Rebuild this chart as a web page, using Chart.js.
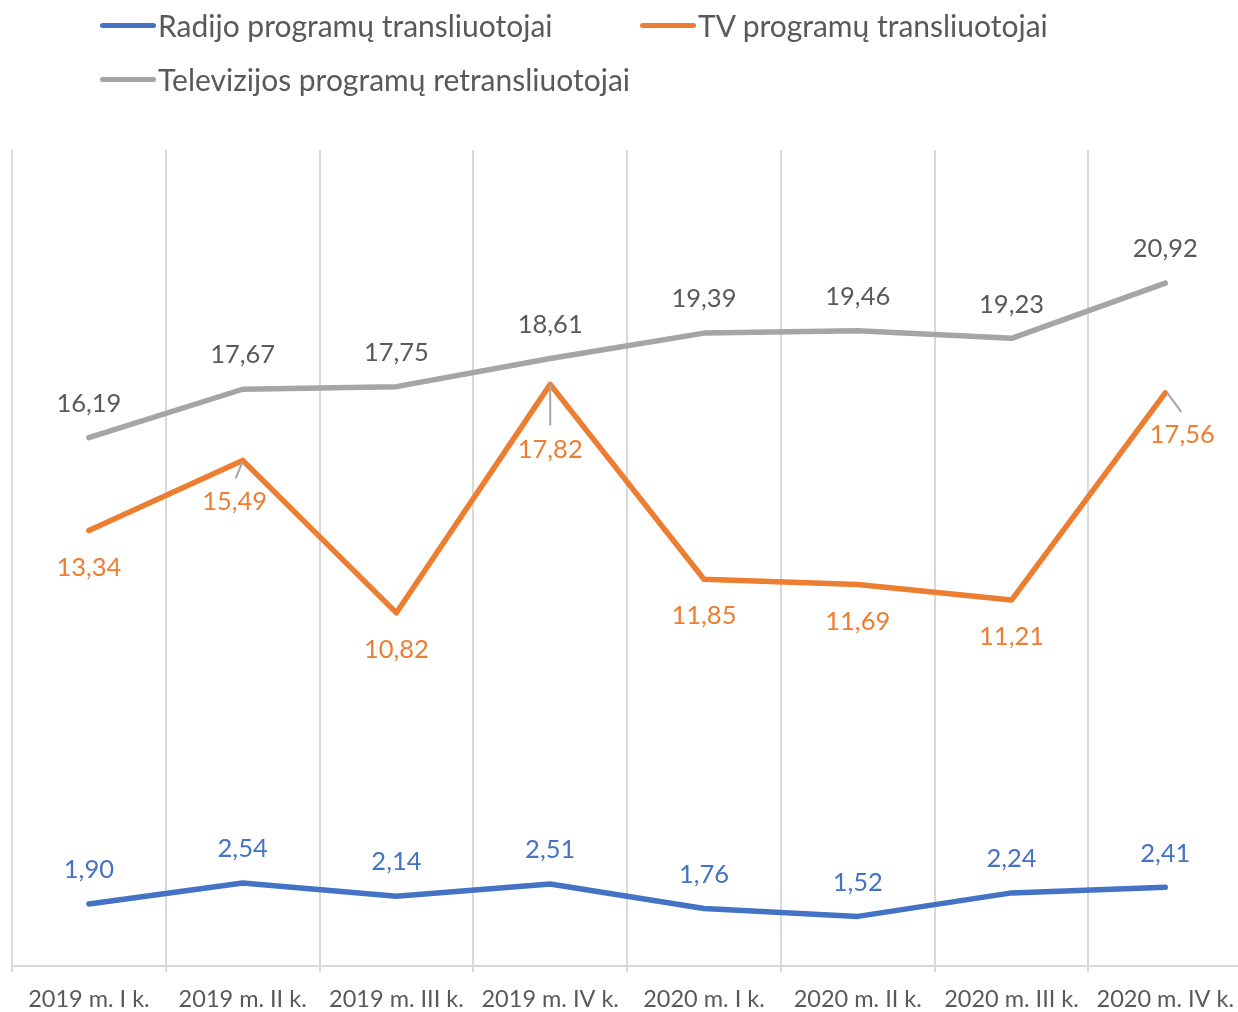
<!DOCTYPE html>
<html>
<head>
<meta charset="utf-8">
<script src="https://cdn.jsdelivr.net/npm/chart.js@4"></script>
<style>
  body { margin: 0; background: #fff; overflow: hidden; width: 1238px; height: 1012px; position: relative; }
  #legend { position: absolute; left: 0; top: 0; width: 1238px; font-family: Lato, sans-serif; font-size: 30px; color: #595959; }
  .item { position: absolute; display: flex; align-items: center; height: 34px; }
  .swatch { width: 56px; height: 5px; border-radius: 3px; margin-right: 2px; }
  #chart { position: absolute; left: 0; top: 0; }
</style>
</head>
<body>
<canvas id="chart" width="1247" height="1012"></canvas>
<div id="legend"></div>
<script>
const categories = ["2019 m. I k.", "2019 m. II k.", "2019 m. III k.", "2019 m. IV k.", "2020 m. I k.", "2020 m. II k.", "2020 m. III k.", "2020 m. IV k."];
const radijo = [1.90, 2.54, 2.14, 2.51, 1.76, 1.52, 2.24, 2.41];
const tv = [13.34, 15.49, 10.82, 17.82, 11.85, 11.69, 11.21, 17.56];
const retrans = [16.19, 17.67, 17.75, 18.61, 19.39, 19.46, 19.23, 20.92];
const seriesNames = ["Radijo programų transliuotojai", "TV programų transliuotojai", "Televizijos programų retransliuotojai"];

const colors = ["#4472C4", "#ED7D31", "#A5A5A5"];
const labelColors = ["#4472C4", "#ED7D31", "#595959"];

// legend, left aligned like the original
const legend = document.getElementById("legend");
const legendPos = [[100, 27], [640, 27], [100, 81]];
seriesNames.forEach((name, i) => {
  const el = document.createElement("div");
  el.className = "item";
  el.style.left = legendPos[i][0] + "px";
  el.style.top = (legendPos[i][1] - 19) + "px";
  el.innerHTML = `<span class="swatch" style="background:${colors[i]}"></span><span>${name}</span>`;
  legend.appendChild(el);
});

const fmt = (v) => v.toFixed(2).replace(".", ",");

// data labels, offsets roughly like Excel placed them
const labelPlugin = {
  id: "labels",
  afterDatasetsDraw(chart) {
    const ctx = chart.ctx;
    ctx.save();
    ctx.font = "25.5px Lato, sans-serif";
    ctx.textAlign = "center";
    ctx.textBaseline = "middle";
    chart.data.datasets.forEach((ds, di) => {
      const meta = chart.getDatasetMeta(di);
      meta.data.forEach((pt, i) => {
        let dx = 0, dy = di === 1 ? 37 : -34;
        let leader = null;
        if (di === 1 && i === 1) { dx = -8; dy = 41; leader = [0, 1, -7, 18]; }
        if (di === 1 && i === 3) { dx = 0; dy = 65; leader = [0, 0, 0, 41]; }
        if (di === 1 && i === 7) { dx = 17; dy = 42; leader = [2, 0, 16, 19]; }
        if (leader) {
          ctx.strokeStyle = "#A5A5A5";
          ctx.lineWidth = 2;
          ctx.beginPath();
          ctx.moveTo(pt.x + leader[0], pt.y + leader[1]);
          ctx.lineTo(pt.x + leader[2], pt.y + leader[3]);
          ctx.stroke();
        }
        ctx.fillStyle = labelColors[di];
        ctx.fillText(fmt(ds.data[i]), pt.x + dx, pt.y + dy);
      });
    });
    ctx.restore();
  }
};

const ctx = document.getElementById("chart").getContext("2d");
const chart = new Chart(ctx, {
  type: "line",
  data: {
    labels: categories,
    datasets: [
      { label: seriesNames[0], data: radijo, borderColor: colors[0] },
      { label: seriesNames[1], data: tv, borderColor: colors[1] },
      { label: seriesNames[2], data: retrans, borderColor: colors[2] }
    ].map(d => Object.assign(d, { borderWidth: 5.5, pointRadius: 0, tension: 0, borderCapStyle: "round", borderJoinStyle: "round" }))
  },
  options: {
    responsive: false,
    animation: false,
    layout: { padding: { top: 150, left: 12, right: 0, bottom: 0 } },
    plugins: { legend: { display: false }, tooltip: { enabled: false } },
    scales: {
      x: {
        offset: true,
        grid: { offset: true, color: "#D9D9D9", lineWidth: 2, tickLength: 6, drawOnChartArea: true },
        border: { color: "#D9D9D9", width: 2 },
        ticks: { color: "#595959", font: { family: "Lato, sans-serif", size: 23.5 }, padding: 13, maxRotation: 0, autoSkip: false },
        afterFit: (scale) => { scale.height = 46; }
      },
      y: { display: false, min: 0, max: 25 }
    }
  },
  plugins: [labelPlugin]
});
</script>
</body>
</html>
